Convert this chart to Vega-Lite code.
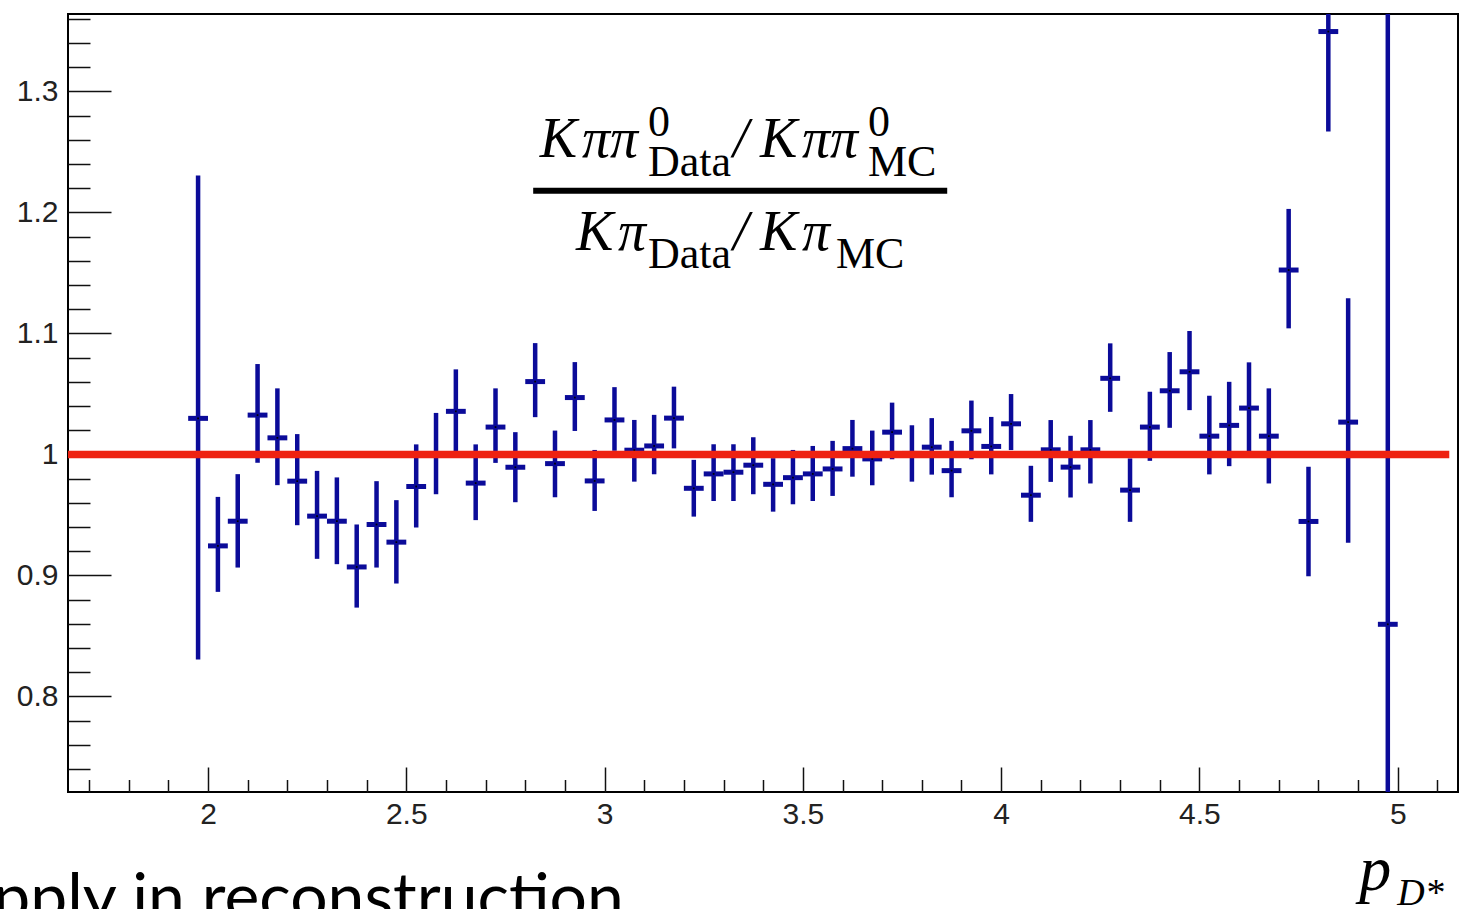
{
  "$schema": "https://vega.github.io/schema/vega-lite/v6.json",
  "width": 1390,
  "height": 778,
  "autosize": "none",
  "padding": {"left": 68, "top": 14, "right": 12, "bottom": 117},
  "background": "white",
  "config": {
    "view": {"stroke": "#000000", "strokeWidth": 2},
    "axis": {"domain": false, "grid": false, "title": null, "tickColor": "#111111", "tickWidth": 1.5, "labelFont": "Liberation Sans", "labelFontSize": 30, "labelColor": "#222222", "labelOverlap": false, "labelFlush": false, "labelBound": false}
  },
  "resolve": {"axis": {"x": "independent", "y": "independent"}},
  "datasets": {
    "bins": [
      {"p": 1.975, "p_lo": 1.95, "p_hi": 2.0, "ratio": 1.0298, "lo": 0.8306, "hi": 1.2306},
      {"p": 2.025, "p_lo": 2.0, "p_hi": 2.05, "ratio": 0.9244, "lo": 0.8864, "hi": 0.9649},
      {"p": 2.075, "p_lo": 2.05, "p_hi": 2.1, "ratio": 0.9448, "lo": 0.9065, "hi": 0.9837},
      {"p": 2.125, "p_lo": 2.1, "p_hi": 2.15, "ratio": 1.0325, "lo": 0.9931, "hi": 1.0747},
      {"p": 2.175, "p_lo": 2.15, "p_hi": 2.2, "ratio": 1.0137, "lo": 0.9746, "hi": 1.0546},
      {"p": 2.225, "p_lo": 2.2, "p_hi": 2.25, "ratio": 0.9779, "lo": 0.9415, "hi": 1.0168},
      {"p": 2.275, "p_lo": 2.25, "p_hi": 2.3, "ratio": 0.949, "lo": 0.9137, "hi": 0.9864},
      {"p": 2.325, "p_lo": 2.3, "p_hi": 2.35, "ratio": 0.9448, "lo": 0.9093, "hi": 0.981},
      {"p": 2.375, "p_lo": 2.35, "p_hi": 2.4, "ratio": 0.907, "lo": 0.8734, "hi": 0.9421},
      {"p": 2.425, "p_lo": 2.4, "p_hi": 2.45, "ratio": 0.9421, "lo": 0.9065, "hi": 0.9779},
      {"p": 2.475, "p_lo": 2.45, "p_hi": 2.5, "ratio": 0.9275, "lo": 0.8933, "hi": 0.9622},
      {"p": 2.525, "p_lo": 2.5, "p_hi": 2.55, "ratio": 0.9735, "lo": 0.9396, "hi": 1.0083},
      {"p": 2.575, "p_lo": 2.55, "p_hi": 2.6, "ratio": 1.0007, "lo": 0.9671, "hi": 1.0343},
      {"p": 2.625, "p_lo": 2.6, "p_hi": 2.65, "ratio": 1.0356, "lo": 1.0011, "hi": 1.0703},
      {"p": 2.675, "p_lo": 2.65, "p_hi": 2.7, "ratio": 0.9763, "lo": 0.9457, "hi": 1.0083},
      {"p": 2.725, "p_lo": 2.7, "p_hi": 2.75, "ratio": 1.0226, "lo": 0.993, "hi": 1.0546},
      {"p": 2.775, "p_lo": 2.75, "p_hi": 2.8, "ratio": 0.9894, "lo": 0.9605, "hi": 1.0184},
      {"p": 2.825, "p_lo": 2.8, "p_hi": 2.85, "ratio": 1.0602, "lo": 1.0308, "hi": 1.092},
      {"p": 2.875, "p_lo": 2.85, "p_hi": 2.9, "ratio": 0.9924, "lo": 0.9646, "hi": 1.0197},
      {"p": 2.925, "p_lo": 2.9, "p_hi": 2.95, "ratio": 1.047, "lo": 1.0194, "hi": 1.0763},
      {"p": 2.975, "p_lo": 2.95, "p_hi": 3.0, "ratio": 0.9781, "lo": 0.9533, "hi": 1.0037},
      {"p": 3.025, "p_lo": 3.0, "p_hi": 3.05, "ratio": 1.0285, "lo": 1.003, "hi": 1.0556},
      {"p": 3.075, "p_lo": 3.05, "p_hi": 3.1, "ratio": 1.0035, "lo": 0.9775, "hi": 1.0285},
      {"p": 3.125, "p_lo": 3.1, "p_hi": 3.15, "ratio": 1.007, "lo": 0.9836, "hi": 1.0327},
      {"p": 3.175, "p_lo": 3.15, "p_hi": 3.2, "ratio": 1.03, "lo": 1.005, "hi": 1.056},
      {"p": 3.225, "p_lo": 3.2, "p_hi": 3.25, "ratio": 0.972, "lo": 0.9486, "hi": 0.9955},
      {"p": 3.275, "p_lo": 3.25, "p_hi": 3.3, "ratio": 0.9839, "lo": 0.9615, "hi": 1.0084},
      {"p": 3.325, "p_lo": 3.3, "p_hi": 3.35, "ratio": 0.9853, "lo": 0.9615, "hi": 1.0084},
      {"p": 3.375, "p_lo": 3.35, "p_hi": 3.4, "ratio": 0.9911, "lo": 0.9671, "hi": 1.0142},
      {"p": 3.425, "p_lo": 3.4, "p_hi": 3.45, "ratio": 0.9753, "lo": 0.9527, "hi": 0.9969},
      {"p": 3.475, "p_lo": 3.45, "p_hi": 3.5, "ratio": 0.9808, "lo": 0.9588, "hi": 1.0037},
      {"p": 3.525, "p_lo": 3.5, "p_hi": 3.55, "ratio": 0.9839, "lo": 0.9615, "hi": 1.007},
      {"p": 3.575, "p_lo": 3.55, "p_hi": 3.6, "ratio": 0.988, "lo": 0.9657, "hi": 1.0112},
      {"p": 3.625, "p_lo": 3.6, "p_hi": 3.65, "ratio": 1.0048, "lo": 0.9816, "hi": 1.0285},
      {"p": 3.675, "p_lo": 3.65, "p_hi": 3.7, "ratio": 0.9963, "lo": 0.9745, "hi": 1.0197},
      {"p": 3.725, "p_lo": 3.7, "p_hi": 3.75, "ratio": 1.0184, "lo": 0.996, "hi": 1.0428},
      {"p": 3.775, "p_lo": 3.75, "p_hi": 3.8, "ratio": 1.0008, "lo": 0.9775, "hi": 1.0241},
      {"p": 3.825, "p_lo": 3.8, "p_hi": 3.85, "ratio": 1.006, "lo": 0.9833, "hi": 1.03},
      {"p": 3.875, "p_lo": 3.85, "p_hi": 3.9, "ratio": 0.9866, "lo": 0.9646, "hi": 1.0112},
      {"p": 3.925, "p_lo": 3.9, "p_hi": 3.95, "ratio": 1.0195, "lo": 0.996, "hi": 1.0445},
      {"p": 3.975, "p_lo": 3.95, "p_hi": 4.0, "ratio": 1.0066, "lo": 0.9835, "hi": 1.031},
      {"p": 4.025, "p_lo": 4.0, "p_hi": 4.05, "ratio": 1.0253, "lo": 1.0036, "hi": 1.0499},
      {"p": 4.075, "p_lo": 4.05, "p_hi": 4.1, "ratio": 0.9663, "lo": 0.9443, "hi": 0.9906},
      {"p": 4.125, "p_lo": 4.1, "p_hi": 4.15, "ratio": 1.0038, "lo": 0.9773, "hi": 1.0284},
      {"p": 4.175, "p_lo": 4.15, "p_hi": 4.2, "ratio": 0.9895, "lo": 0.9644, "hi": 1.0154},
      {"p": 4.225, "p_lo": 4.2, "p_hi": 4.25, "ratio": 1.0038, "lo": 0.976, "hi": 1.0284},
      {"p": 4.275, "p_lo": 4.25, "p_hi": 4.3, "ratio": 1.0629, "lo": 1.0352, "hi": 1.0918},
      {"p": 4.325, "p_lo": 4.3, "p_hi": 4.35, "ratio": 0.9705, "lo": 0.9443, "hi": 0.9967},
      {"p": 4.375, "p_lo": 4.35, "p_hi": 4.4, "ratio": 1.0226, "lo": 0.9947, "hi": 1.0518},
      {"p": 4.425, "p_lo": 4.4, "p_hi": 4.45, "ratio": 1.0526, "lo": 1.022, "hi": 1.0846},
      {"p": 4.475, "p_lo": 4.45, "p_hi": 4.5, "ratio": 1.0683, "lo": 1.0366, "hi": 1.102},
      {"p": 4.525, "p_lo": 4.5, "p_hi": 4.55, "ratio": 1.0151, "lo": 0.9835, "hi": 1.0485},
      {"p": 4.575, "p_lo": 4.55, "p_hi": 4.6, "ratio": 1.024, "lo": 0.9903, "hi": 1.06},
      {"p": 4.625, "p_lo": 4.6, "p_hi": 4.65, "ratio": 1.0383, "lo": 1.0013, "hi": 1.0761},
      {"p": 4.675, "p_lo": 4.65, "p_hi": 4.7, "ratio": 1.0151, "lo": 0.976, "hi": 1.0546},
      {"p": 4.725, "p_lo": 4.7, "p_hi": 4.75, "ratio": 1.1524, "lo": 1.1042, "hi": 1.2029},
      {"p": 4.775, "p_lo": 4.75, "p_hi": 4.8, "ratio": 0.9446, "lo": 0.8993, "hi": 0.9898},
      {"p": 4.825, "p_lo": 4.8, "p_hi": 4.85, "ratio": 1.3495, "lo": 1.2668, "hi": 1.432},
      {"p": 4.875, "p_lo": 4.85, "p_hi": 4.9, "ratio": 1.0267, "lo": 0.9269, "hi": 1.129},
      {"p": 4.975, "p_lo": 4.95, "p_hi": 5.0, "ratio": 0.8596, "lo": 0.26, "hi": 1.46}
    ]
  },
  "layer": [
    {
      "data": {"name": "bins"},
      "mark": {"type": "rule", "color": "#0b0b99", "strokeWidth": 4.5, "clip": true},
      "encoding": {
        "x": {
          "field": "p",
          "type": "quantitative",
          "scale": {"domain": [1.647, 5.152], "nice": false, "zero": false},
          "axis": {"orient": "bottom", "values": [2, 2.5, 3, 3.5, 4, 4.5, 5], "format": "~g", "tickSize": -25, "labelPadding": 32}
        },
        "y": {
          "field": "lo",
          "type": "quantitative",
          "scale": {"domain": [0.721, 1.364], "nice": false, "zero": false},
          "axis": {"orient": "left", "values": [0.8, 0.9, 1.0, 1.1, 1.2, 1.3], "format": "~g", "tickSize": -43, "labelPadding": 53}
        },
        "y2": {"field": "hi"}
      }
    },
    {
      "data": {"name": "bins"},
      "mark": {"type": "rule", "color": "#0b0b99", "strokeWidth": 5, "clip": true},
      "encoding": {
        "x": {
          "field": "p_lo",
          "type": "quantitative",
          "axis": {"orient": "bottom", "values": [1.7, 1.8, 1.9, 2.1, 2.2, 2.3, 2.4, 2.6, 2.7, 2.8, 2.9, 3.1, 3.2, 3.3, 3.4, 3.6, 3.7, 3.8, 3.9, 4.1, 4.2, 4.3, 4.4, 4.6, 4.7, 4.8, 4.9, 5.1], "labels": false, "tickSize": -12.5}
        },
        "x2": {"field": "p_hi"},
        "y": {
          "field": "ratio",
          "type": "quantitative",
          "axis": {"orient": "left", "values": [0.74, 0.76, 0.78, 0.82, 0.84, 0.86, 0.88, 0.92, 0.94, 0.96, 0.98, 1.02, 1.04, 1.06, 1.08, 1.12, 1.14, 1.16, 1.18, 1.22, 1.24, 1.26, 1.28, 1.32, 1.34, 1.36], "labels": false, "tickSize": -22}
        }
      }
    },
    {
      "data": {"name": "bins"},
      "mark": {"type": "square", "color": "#000000", "size": 3, "opacity": 1, "clip": true},
      "encoding": {
        "x": {"field": "p", "type": "quantitative", "axis": null},
        "y": {"field": "ratio", "type": "quantitative", "axis": null}
      }
    },
    {
      "data": {"values": [{}]},
      "mark": {"type": "rule", "color": "#ee2211", "strokeWidth": 7.5},
      "encoding": {
        "x": {"datum": 1.647, "type": "quantitative", "axis": null},
        "x2": {"datum": 5.13},
        "y": {"datum": 1.0, "type": "quantitative", "axis": null}
      }
    },
    {
      "data": {"values": [{}]},
      "mark": {"type": "rule", "color": "#000000", "strokeWidth": 6},
      "encoding": {
        "x": {"datum": 2.82, "type": "quantitative", "axis": null},
        "x2": {"datum": 3.864},
        "y": {"datum": 1.218, "type": "quantitative", "axis": null}
      }
    },
    {
      "data": {"values": [{}]},
      "mark": {"type": "text", "text": "K", "font": "Liberation Serif", "fontStyle": "italic", "fontSize": 56, "align": "left", "baseline": "alphabetic", "color": "#000000"},
      "encoding": {"x": {"datum": 2.8366, "type": "quantitative", "axis": null}, "y": {"datum": 1.2461, "type": "quantitative", "axis": null}}
    },
    {
      "data": {"values": [{}]},
      "mark": {"type": "text", "text": "ππ", "font": "Liberation Serif", "fontStyle": "italic", "fontSize": 56, "align": "left", "baseline": "alphabetic", "color": "#000000"},
      "encoding": {"x": {"datum": 2.9429, "type": "quantitative", "axis": null}, "y": {"datum": 1.2461, "type": "quantitative", "axis": null}}
    },
    {
      "data": {"values": [{}]},
      "mark": {"type": "text", "text": "K", "font": "Liberation Serif", "fontStyle": "italic", "fontSize": 56, "align": "left", "baseline": "alphabetic", "color": "#000000"},
      "encoding": {"x": {"datum": 3.3918, "type": "quantitative", "axis": null}, "y": {"datum": 1.2461, "type": "quantitative", "axis": null}}
    },
    {
      "data": {"values": [{}]},
      "mark": {"type": "text", "text": "ππ", "font": "Liberation Serif", "fontStyle": "italic", "fontSize": 56, "align": "left", "baseline": "alphabetic", "color": "#000000"},
      "encoding": {"x": {"datum": 3.4978, "type": "quantitative", "axis": null}, "y": {"datum": 1.2461, "type": "quantitative", "axis": null}}
    },
    {
      "data": {"values": [{}]},
      "mark": {"type": "text", "text": "K", "font": "Liberation Serif", "fontStyle": "italic", "fontSize": 56, "align": "left", "baseline": "alphabetic", "color": "#000000"},
      "encoding": {"x": {"datum": 2.9278, "type": "quantitative", "axis": null}, "y": {"datum": 1.1689, "type": "quantitative", "axis": null}}
    },
    {
      "data": {"values": [{}]},
      "mark": {"type": "text", "text": "π", "font": "Liberation Serif", "fontStyle": "italic", "fontSize": 56, "align": "left", "baseline": "alphabetic", "color": "#000000"},
      "encoding": {"x": {"datum": 3.0338, "type": "quantitative", "axis": null}, "y": {"datum": 1.1689, "type": "quantitative", "axis": null}}
    },
    {
      "data": {"values": [{}]},
      "mark": {"type": "text", "text": "K", "font": "Liberation Serif", "fontStyle": "italic", "fontSize": 56, "align": "left", "baseline": "alphabetic", "color": "#000000"},
      "encoding": {"x": {"datum": 3.3918, "type": "quantitative", "axis": null}, "y": {"datum": 1.1689, "type": "quantitative", "axis": null}}
    },
    {
      "data": {"values": [{}]},
      "mark": {"type": "text", "text": "π", "font": "Liberation Serif", "fontStyle": "italic", "fontSize": 56, "align": "left", "baseline": "alphabetic", "color": "#000000"},
      "encoding": {"x": {"datum": 3.4978, "type": "quantitative", "axis": null}, "y": {"datum": 1.1689, "type": "quantitative", "axis": null}}
    },
    {
      "data": {"values": [{}]},
      "mark": {"type": "text", "text": "/", "font": "Liberation Serif", "fontStyle": "italic", "fontSize": 56, "align": "left", "baseline": "alphabetic", "color": "#000000"},
      "encoding": {"x": {"datum": 3.3237, "type": "quantitative", "axis": null}, "y": {"datum": 1.2461, "type": "quantitative", "axis": null}}
    },
    {
      "data": {"values": [{}]},
      "mark": {"type": "text", "text": "/", "font": "Liberation Serif", "fontStyle": "italic", "fontSize": 56, "align": "left", "baseline": "alphabetic", "color": "#000000"},
      "encoding": {"x": {"datum": 3.3237, "type": "quantitative", "axis": null}, "y": {"datum": 1.1689, "type": "quantitative", "axis": null}}
    },
    {
      "data": {"values": [{}]},
      "mark": {"type": "text", "text": "0", "font": "Liberation Serif", "fontSize": 44, "align": "left", "baseline": "alphabetic", "color": "#000000"},
      "encoding": {"x": {"datum": 3.1093, "type": "quantitative", "axis": null}, "y": {"datum": 1.2632, "type": "quantitative", "axis": null}}
    },
    {
      "data": {"values": [{}]},
      "mark": {"type": "text", "text": "0", "font": "Liberation Serif", "fontSize": 44, "align": "left", "baseline": "alphabetic", "color": "#000000"},
      "encoding": {"x": {"datum": 3.6642, "type": "quantitative", "axis": null}, "y": {"datum": 1.2632, "type": "quantitative", "axis": null}}
    },
    {
      "data": {"values": [{}]},
      "mark": {"type": "text", "text": "Data", "font": "Liberation Serif", "fontSize": 44, "align": "left", "baseline": "alphabetic", "color": "#000000"},
      "encoding": {"x": {"datum": 3.1093, "type": "quantitative", "axis": null}, "y": {"datum": 1.2302, "type": "quantitative", "axis": null}}
    },
    {
      "data": {"values": [{}]},
      "mark": {"type": "text", "text": "MC", "font": "Liberation Serif", "fontSize": 44, "align": "left", "baseline": "alphabetic", "color": "#000000"},
      "encoding": {"x": {"datum": 3.6642, "type": "quantitative", "axis": null}, "y": {"datum": 1.2302, "type": "quantitative", "axis": null}}
    },
    {
      "data": {"values": [{}]},
      "mark": {"type": "text", "text": "Data", "font": "Liberation Serif", "fontSize": 44, "align": "left", "baseline": "alphabetic", "color": "#000000"},
      "encoding": {"x": {"datum": 3.1093, "type": "quantitative", "axis": null}, "y": {"datum": 1.1541, "type": "quantitative", "axis": null}}
    },
    {
      "data": {"values": [{}]},
      "mark": {"type": "text", "text": "MC", "font": "Liberation Serif", "fontSize": 44, "align": "left", "baseline": "alphabetic", "color": "#000000"},
      "encoding": {"x": {"datum": 3.5834, "type": "quantitative", "axis": null}, "y": {"datum": 1.1541, "type": "quantitative", "axis": null}}
    },
    {
      "data": {"values": [{}]},
      "mark": {"type": "text", "text": "p", "font": "Liberation Serif", "fontStyle": "italic", "fontSize": 64, "align": "left", "baseline": "alphabetic", "color": "#000000"},
      "encoding": {"x": {"datum": 4.903, "type": "quantitative", "axis": null}, "y": {"datum": 0.6396, "type": "quantitative", "axis": null}}
    },
    {
      "data": {"values": [{}]},
      "mark": {"type": "text", "text": "D*", "font": "Liberation Serif", "fontStyle": "italic", "fontSize": 38, "align": "left", "baseline": "alphabetic", "color": "#000000"},
      "encoding": {"x": {"datum": 4.999, "type": "quantitative", "axis": null}, "y": {"datum": 0.6272, "type": "quantitative", "axis": null}}
    },
    {
      "data": {"values": [{}]},
      "mark": {"type": "text", "text": "apply in reconstruction", "font": "Lato", "fontSize": 66, "align": "right", "baseline": "alphabetic", "color": "#000000"},
      "encoding": {"x": {"datum": 3.0487, "type": "quantitative", "axis": null}, "y": {"datum": 0.6148, "type": "quantitative", "axis": null}}
    }
  ]
}
